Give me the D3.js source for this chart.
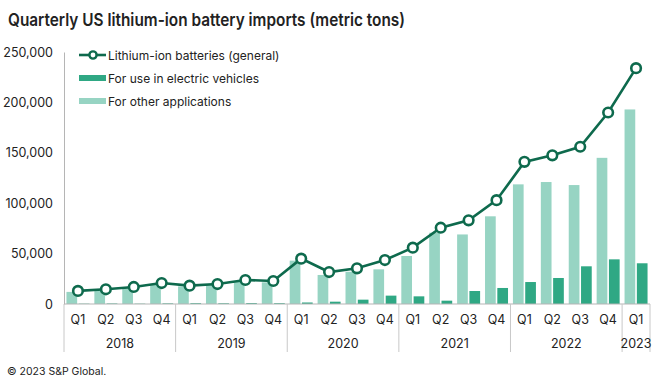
<!doctype html>
<html lang="en">
<head>
  <meta charset="utf-8">
  <title>Quarterly US lithium-ion battery imports</title>
  <style>
    body { margin: 0; background: #fff; }
    text { font-family: Inter, 'Noto Sans', sans-serif; fill: #222; }
  </style>
</head>
<body>
  <script src="https://cdn.jsdelivr.net/npm/d3@7"></script>
  <script>
    // quarterly data, metric tons
    var quarters = ['Q1','Q2','Q3','Q4','Q1','Q2','Q3','Q4','Q1','Q2','Q3','Q4',
                    'Q1','Q2','Q3','Q4','Q1','Q2','Q3','Q4','Q1']
    var years = ['2018','2019','2020','2021','2022','2023']
    var quartersPerYear = [4, 4, 4, 4, 4, 1]
    var general = [13000, 14600, 16900, 20800, 18200, 19800, 23800, 22800,
                   45000, 31700, 35400, 43600, 55900, 75700, 83000, 103000,
                   141000, 147500, 156000, 190000, 234000]
    var other = [12000, 14000, 16000, 19000, 17500, 19000, 22000, 21500,
                 43000, 28800, 32000, 34400, 47600, 70700, 69000, 87000,
                 118700, 121000, 118000, 145000, 193000]
    var ev = [300, 500, 300, 600, 800, 700, 900, 800,
              1500, 2300, 4300, 8300, 7600, 3300, 12900, 15900,
              21800, 25800, 37400, 44300, 40400]
    var yTicks = [0, 50000, 100000, 150000, 200000, 250000]
    var legendLabels = ['Lithium-ion batteries (general)', 'For use in electric vehicles', 'For other applications']

    var colLine = '#0e6a4d'
    var colEv = '#2fa884'
    var colOther = '#97d4c3'

    var W = 660, H = 387
    var plotLeft = 64, plotRight = 650, plotTop = 52, plotBottom = 304

    var svg = d3.select('body').append('svg')
      .attr('width', W)
      .attr('height', H)

    svg.append('text')
      .attr('x', 8)
      .attr('y', 26)
      .attr('textLength', 397)
      .attr('lengthAdjust', 'spacingAndGlyphs')
      .style('font-size', '17.5px')
      .style('font-weight', 600)
      .text('Quarterly US lithium-ion battery imports (metric tons)')

    var idx = d3.range(quarters.length)

    var x = d3.scaleBand()
      .domain(idx)
      .range([plotLeft, plotRight])

    var x1 = d3.scaleBand()
      .domain(['other', 'ev'])
      .range([0, x.bandwidth()])
      .paddingInner(0.13)
      .paddingOuter(0.2)

    var y = d3.scaleLinear()
      .domain([0, 250000])
      .range([plotBottom, plotTop])

    // y axis
    var yAxis = d3.axisLeft(y)
      .tickValues(yTicks)
      .tickSize(0)
      .tickPadding(11)
      .tickFormat(d3.format(','))

    var yg = svg.append('g')
      .attr('transform', 'translate(' + plotLeft + ',0)')
      .call(yAxis)
    yg.select('.domain').attr('stroke', '#b5b5b5')
    yg.selectAll('text')
      .style('font-size', '12.5px')
      .style('fill', '#222')

    // bars
    svg.selectAll('.other')
      .data(other)
      .enter().append('rect')
      .attr('class', 'other')
      .attr('x', function(d, i) { return x(i) + x1('other') })
      .attr('width', x1.bandwidth())
      .attr('y', function(d) { return y(d) })
      .attr('height', function(d) { return y(0) - y(d) })
      .style('fill', colOther)

    svg.selectAll('.ev')
      .data(ev)
      .enter().append('rect')
      .attr('class', 'ev')
      .attr('x', function(d, i) { return x(i) + x1('ev') })
      .attr('width', x1.bandwidth())
      .attr('y', function(d) { return y(d) })
      .attr('height', function(d) { return y(0) - y(d) })
      .style('fill', colEv)

    // x axis: quarter labels + year groups
    var xg = svg.append('g')
    xg.append('line')
      .attr('x1', plotLeft).attr('x2', plotRight)
      .attr('y1', plotBottom).attr('y2', plotBottom)
      .attr('stroke', '#b5b5b5')

    xg.selectAll('.q')
      .data(quarters)
      .enter().append('text')
      .attr('class', 'q')
      .attr('x', function(d, i) { return x(i) + x.bandwidth() / 2 })
      .attr('y', 324)
      .attr('text-anchor', 'middle')
      .style('font-size', '12.5px')
      .text(function(d) { return d })

    var starts = [0]
    quartersPerYear.forEach(function(n, i) { starts.push(starts[i] + n) })

    xg.selectAll('.sep')
      .data(starts)
      .enter().append('line')
      .attr('class', 'sep')
      .attr('x1', function(d) { return d < quarters.length ? x(d) : plotRight })
      .attr('x2', function(d) { return d < quarters.length ? x(d) : plotRight })
      .attr('y1', plotBottom)
      .attr('y2', 352)
      .attr('stroke', '#c8c8c8')

    xg.selectAll('.yr')
      .data(years)
      .enter().append('text')
      .attr('class', 'yr')
      .attr('x', function(d, i) {
        var a = x(starts[i])
        var b = starts[i + 1] < quarters.length ? x(starts[i + 1]) : plotRight
        return (a + b) / 2
      })
      .attr('y', 348)
      .attr('text-anchor', 'middle')
      .style('font-size', '12.5px')
      .text(function(d) { return d })

    // line
    var line = d3.line()
      .x(function(d, i) { return x(i) + x.bandwidth() / 2 })
      .y(function(d) { return y(d) })

    svg.append('path')
      .datum(general)
      .attr('d', line)
      .style('fill', 'none')
      .style('stroke', colLine)
      .style('stroke-width', 2.6)

    svg.selectAll('.pt')
      .data(general)
      .enter().append('circle')
      .attr('class', 'pt')
      .attr('cx', function(d, i) { return x(i) + x.bandwidth() / 2 })
      .attr('cy', function(d) { return y(d) })
      .attr('r', 4.8)
      .style('fill', '#fff')
      .style('stroke', colLine)
      .style('stroke-width', 2.6)

    // legend
    var lg = svg.append('g').attr('transform', 'translate(79,55)')
    lg.append('line')
      .attr('x1', 0).attr('x2', 27)
      .attr('y1', 0).attr('y2', 0)
      .style('stroke', colLine).style('stroke-width', 2.6)
    lg.append('circle')
      .attr('cx', 14).attr('cy', 0).attr('r', 3.6)
      .style('fill', '#fff').style('stroke', colLine).style('stroke-width', 2.4)
    lg.append('rect')
      .attr('x', 0).attr('y', 20).attr('width', 27).attr('height', 6)
      .style('fill', colEv)
    lg.append('rect')
      .attr('x', 0).attr('y', 43).attr('width', 27).attr('height', 6)
      .style('fill', colOther)
    lg.selectAll('.lt')
      .data(legendLabels)
      .enter().append('text')
      .attr('class', 'lt')
      .attr('x', 29)
      .attr('y', function(d, i) { return i * 23 + 4.5 })
      .style('font-size', '12px')
      .text(function(d) { return d })

    svg.append('text')
      .attr('x', 7)
      .attr('y', 375)
      .style('font-size', '10.5px')
      .text('\u00a9 2023 S&P Global.')
  </script>
</body>
</html>
